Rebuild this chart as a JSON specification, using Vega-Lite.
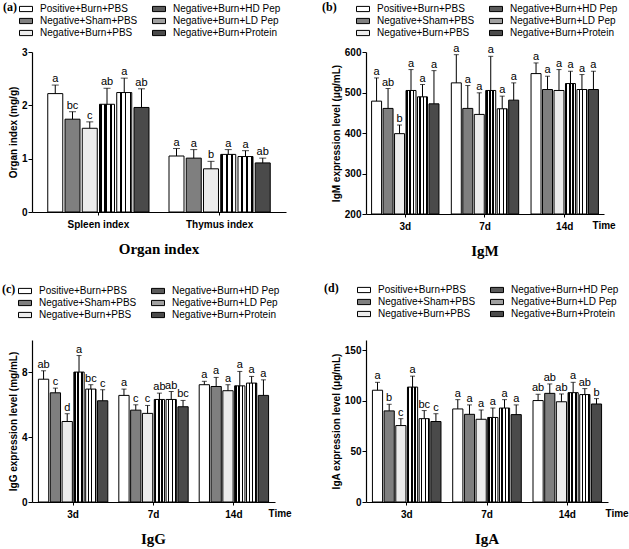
{
  "$schema": "https://vega.github.io/schema/vega-lite/v6.json",
  "padding": {"left": 2, "top": 2, "right": 0, "bottom": 0},
  "datasets": {
    "rows": [
      {"p": "a", "g": "Spleen index", "t": "Positive+Burn+PBS", "v": 2.22, "u": 2.38, "l": "a"},
      {"p": "a", "g": "Spleen index", "t": "Negative+Sham+PBS", "v": 1.74, "u": 1.88, "l": "bc"},
      {"p": "a", "g": "Spleen index", "t": "Negative+Burn+PBS", "v": 1.57, "u": 1.69, "l": "c"},
      {"p": "a", "g": "Spleen index", "t": "Negative+Burn+HD Pep", "v": 2.02, "u": 2.32, "l": "ab"},
      {"p": "a", "g": "Spleen index", "t": "Negative+Burn+LD Pep", "v": 2.24, "u": 2.51, "l": "a"},
      {"p": "a", "g": "Spleen index", "t": "Negative+Burn+Protein", "v": 1.96, "u": 2.31, "l": "ab"},
      {"p": "a", "g": "Thymus index", "t": "Positive+Burn+PBS", "v": 1.05, "u": 1.19, "l": "a"},
      {"p": "a", "g": "Thymus index", "t": "Negative+Sham+PBS", "v": 1.01, "u": 1.17, "l": "a"},
      {"p": "a", "g": "Thymus index", "t": "Negative+Burn+PBS", "v": 0.81, "u": 0.95, "l": "b"},
      {"p": "a", "g": "Thymus index", "t": "Negative+Burn+HD Pep", "v": 1.08, "u": 1.17, "l": "a"},
      {"p": "a", "g": "Thymus index", "t": "Negative+Burn+LD Pep", "v": 1.04, "u": 1.15, "l": "a"},
      {"p": "a", "g": "Thymus index", "t": "Negative+Burn+Protein", "v": 0.92, "u": 1.01, "l": "ab"},

      {"p": "b", "g": "3d", "t": "Positive+Burn+PBS", "v": 478.7, "u": 536.0, "l": "a"},
      {"p": "b", "g": "3d", "t": "Negative+Sham+PBS", "v": 460.7, "u": 509.8, "l": "ab"},
      {"p": "b", "g": "3d", "t": "Negative+Burn+PBS", "v": 398.4, "u": 419.7, "l": "b"},
      {"p": "b", "g": "3d", "t": "Negative+Burn+HD Pep", "v": 505.0, "u": 556.6, "l": "a"},
      {"p": "b", "g": "3d", "t": "Negative+Burn+LD Pep", "v": 489.3, "u": 519.7, "l": "a"},
      {"p": "b", "g": "3d", "t": "Negative+Burn+Protein", "v": 472.0, "u": 554.0, "l": "a"},
      {"p": "b", "g": "7d", "t": "Positive+Burn+PBS", "v": 523.8, "u": 593.4, "l": "a"},
      {"p": "b", "g": "7d", "t": "Negative+Sham+PBS", "v": 460.7, "u": 517.2, "l": "a"},
      {"p": "b", "g": "7d", "t": "Negative+Burn+PBS", "v": 445.9, "u": 499.2, "l": "a"},
      {"p": "b", "g": "7d", "t": "Negative+Burn+HD Pep", "v": 505.0, "u": 589.3, "l": "a"},
      {"p": "b", "g": "7d", "t": "Negative+Burn+LD Pep", "v": 459.8, "u": 491.0, "l": "a"},
      {"p": "b", "g": "7d", "t": "Negative+Burn+Protein", "v": 481.1, "u": 523.8, "l": "a"},
      {"p": "b", "g": "14d", "t": "Positive+Burn+PBS", "v": 546.7, "u": 573.0, "l": "a"},
      {"p": "b", "g": "14d", "t": "Negative+Sham+PBS", "v": 507.4, "u": 540.2, "l": "a"},
      {"p": "b", "g": "14d", "t": "Negative+Burn+PBS", "v": 505.0, "u": 556.6, "l": "a"},
      {"p": "b", "g": "14d", "t": "Negative+Burn+HD Pep", "v": 522.1, "u": 552.5, "l": "a"},
      {"p": "b", "g": "14d", "t": "Negative+Burn+LD Pep", "v": 507.4, "u": 544.3, "l": "a"},
      {"p": "b", "g": "14d", "t": "Negative+Burn+Protein", "v": 507.4, "u": 552.5, "l": "a"},

      {"p": "c", "g": "3d", "t": "Positive+Burn+PBS", "v": 7.58, "u": 8.10, "l": "ab"},
      {"p": "c", "g": "3d", "t": "Negative+Sham+PBS", "v": 6.74, "u": 7.03, "l": "c"},
      {"p": "c", "g": "3d", "t": "Negative+Burn+PBS", "v": 4.97, "u": 5.45, "l": "d"},
      {"p": "c", "g": "3d", "t": "Negative+Burn+HD Pep", "v": 8.02, "u": 9.04, "l": "a"},
      {"p": "c", "g": "3d", "t": "Negative+Burn+LD Pep", "v": 6.97, "u": 7.24, "l": "bc"},
      {"p": "c", "g": "3d", "t": "Negative+Burn+Protein", "v": 6.25, "u": 6.93, "l": "c"},
      {"p": "c", "g": "7d", "t": "Positive+Burn+PBS", "v": 6.58, "u": 6.97, "l": "a"},
      {"p": "c", "g": "7d", "t": "Negative+Sham+PBS", "v": 5.67, "u": 6.00, "l": "c"},
      {"p": "c", "g": "7d", "t": "Negative+Burn+PBS", "v": 5.47, "u": 5.96, "l": "c"},
      {"p": "c", "g": "7d", "t": "Negative+Burn+HD Pep", "v": 6.33, "u": 6.72, "l": "ab"},
      {"p": "c", "g": "7d", "t": "Negative+Burn+LD Pep", "v": 6.33, "u": 6.82, "l": "ab"},
      {"p": "c", "g": "7d", "t": "Negative+Burn+Protein", "v": 5.88, "u": 6.27, "l": "bc"},
      {"p": "c", "g": "14d", "t": "Positive+Burn+PBS", "v": 7.24, "u": 7.45, "l": "a"},
      {"p": "c", "g": "14d", "t": "Negative+Sham+PBS", "v": 7.13, "u": 7.69, "l": "a"},
      {"p": "c", "g": "14d", "t": "Negative+Burn+PBS", "v": 6.87, "u": 7.24, "l": "a"},
      {"p": "c", "g": "14d", "t": "Negative+Burn+HD Pep", "v": 7.17, "u": 8.06, "l": "a"},
      {"p": "c", "g": "14d", "t": "Negative+Burn+LD Pep", "v": 7.34, "u": 7.75, "l": "a"},
      {"p": "c", "g": "14d", "t": "Negative+Burn+Protein", "v": 6.58, "u": 7.54, "l": "a"},

      {"p": "d", "g": "3d", "t": "Positive+Burn+PBS", "v": 110.4, "u": 118.2, "l": "a"},
      {"p": "d", "g": "3d", "t": "Negative+Sham+PBS", "v": 90.0, "u": 96.5, "l": "b"},
      {"p": "d", "g": "3d", "t": "Negative+Burn+PBS", "v": 75.5, "u": 82.3, "l": "c"},
      {"p": "d", "g": "3d", "t": "Negative+Burn+HD Pep", "v": 113.5, "u": 124.3, "l": "a"},
      {"p": "d", "g": "3d", "t": "Negative+Burn+LD Pep", "v": 82.3, "u": 90.3, "l": "bc"},
      {"p": "d", "g": "3d", "t": "Negative+Burn+Protein", "v": 79.5, "u": 87.2, "l": "c"},
      {"p": "d", "g": "7d", "t": "Positive+Burn+PBS", "v": 91.9, "u": 101.1, "l": "a"},
      {"p": "d", "g": "7d", "t": "Negative+Sham+PBS", "v": 86.6, "u": 95.9, "l": "a"},
      {"p": "d", "g": "7d", "t": "Negative+Burn+PBS", "v": 81.7, "u": 90.9, "l": "a"},
      {"p": "d", "g": "7d", "t": "Negative+Burn+HD Pep", "v": 83.5, "u": 92.8, "l": "a"},
      {"p": "d", "g": "7d", "t": "Negative+Burn+LD Pep", "v": 92.8, "u": 101.1, "l": "a"},
      {"p": "d", "g": "7d", "t": "Negative+Burn+Protein", "v": 86.3, "u": 95.9, "l": "a"},
      {"p": "d", "g": "14d", "t": "Positive+Burn+PBS", "v": 100.2, "u": 106.4, "l": "ab"},
      {"p": "d", "g": "14d", "t": "Negative+Sham+PBS", "v": 107.3, "u": 116.6, "l": "ab"},
      {"p": "d", "g": "14d", "t": "Negative+Burn+PBS", "v": 99.0, "u": 106.7, "l": "ab"},
      {"p": "d", "g": "14d", "t": "Negative+Burn+HD Pep", "v": 108.0, "u": 118.2, "l": "a"},
      {"p": "d", "g": "14d", "t": "Negative+Burn+LD Pep", "v": 106.1, "u": 112.0, "l": "ab"},
      {"p": "d", "g": "14d", "t": "Negative+Burn+Protein", "v": 96.8, "u": 102.1, "l": "b"}
    ]
  },
  "data": {"name": "rows"},
  "columns": 2,
  "align": "each",
  "spacing": {"row": 24, "column": 30},
  "resolve": {"scale": {"fill": "independent", "xOffset": "independent"}, "legend": {"fill": "independent"}},
  "concat": [
    {
      "width": 254, "height": 160,
      "title": {"text": "Organ index"},
      "transform": [{"filter": "datum.p == 'a'"}],
      "encoding": {
        "x": {"field": "g", "type": "nominal", "sort": null, "scale": {"paddingInner": 0.165, "paddingOuter": 0.13}, "axis": {"title": null}},
        "xOffset": {"field": "t", "type": "nominal", "sort": null, "scale": {"domain": ["Positive+Burn+PBS", "Negative+Sham+PBS", "Negative+Burn+PBS", "Negative+Burn+HD Pep", "Negative+Burn+LD Pep", "Negative+Burn+Protein"], "paddingInner": 0.13}}
      },
      "layer": [
        {
          "mark": {"type": "bar", "stroke": "black", "strokeWidth": 1},
          "encoding": {
            "y": {"field": "v", "type": "quantitative", "scale": {"domain": [0, 3]}, "axis": {"values": [0, 1, 2, 3], "title": "Organ index (mg/g)"}},
            "fill": {
              "condition": [
                {"test": "datum.t == 'Negative+Burn+HD Pep'", "value": {"gradient": "linear", "x1": 0, "y1": 0, "x2": 1, "y2": 0, "stops": [{"offset": 0, "color": "#000"}, {"offset": 0.18, "color": "#000"}, {"offset": 0.18, "color": "#fff"}, {"offset": 0.333, "color": "#fff"}, {"offset": 0.333, "color": "#000"}, {"offset": 0.513, "color": "#000"}, {"offset": 0.513, "color": "#fff"}, {"offset": 0.667, "color": "#fff"}, {"offset": 0.667, "color": "#000"}, {"offset": 0.847, "color": "#000"}, {"offset": 0.847, "color": "#fff"}, {"offset": 1, "color": "#fff"}]}},
                {"test": "datum.t == 'Negative+Burn+LD Pep'", "value": {"gradient": "linear", "x1": 0, "y1": 0, "x2": 1, "y2": 0, "stops": [{"offset": 0, "color": "#fff"}, {"offset": 0.2, "color": "#fff"}, {"offset": 0.2, "color": "#000"}, {"offset": 0.32, "color": "#000"}, {"offset": 0.32, "color": "#fff"}, {"offset": 0.53, "color": "#fff"}, {"offset": 0.53, "color": "#000"}, {"offset": 0.65, "color": "#000"}, {"offset": 0.65, "color": "#fff"}, {"offset": 0.86, "color": "#fff"}, {"offset": 0.86, "color": "#000"}, {"offset": 0.98, "color": "#000"}, {"offset": 0.98, "color": "#fff"}, {"offset": 1, "color": "#fff"}]}}
              ],
              "field": "t", "type": "nominal",
              "scale": {
                "domain": ["Positive+Burn+PBS", "Negative+Sham+PBS", "Negative+Burn+PBS", "Negative+Burn+HD Pep", "Negative+Burn+LD Pep", "Negative+Burn+Protein"],
                "range": ["#ffffff", "#7f7f7f", "#ececec", "#5a5a5a", "#a0a0a0", "#4a4a4a"]
              },
              "legend": {"title": "(a)", "legendX": -29, "legendY": -50, "titlePadding": 2}
            }
          }
        },
        {"mark": {"type": "rule", "color": "black", "strokeWidth": 1}, "encoding": {"y": {"field": "v", "type": "quantitative", "axis": {"title": "Organ index (mg/g)"}}, "y2": {"field": "u"}}},
        {"mark": {"type": "tick", "color": "black", "thickness": 1, "size": 7}, "encoding": {"y": {"field": "u", "type": "quantitative", "axis": {"title": "Organ index (mg/g)"}}}},
        {"mark": {"type": "text", "baseline": "bottom", "dy": -1, "fontSize": 11, "color": "black"}, "encoding": {"y": {"field": "u", "type": "quantitative", "axis": {"title": "Organ index (mg/g)"}}, "text": {"field": "l"}}}
      ]
    },
    {
      "width": 238, "height": 162,
      "title": {"text": "IgM"},
      "transform": [{"filter": "datum.p == 'b'"}],
      "encoding": {
        "x": {"field": "g", "type": "nominal", "sort": null, "scale": {"paddingInner": 0.155, "paddingOuter": 0.07}, "axis": {"title": "Time", "titleX": 226, "titleY": 11, "titleAlign": "left", "titleBaseline": "middle"}},
        "xOffset": {"field": "t", "type": "nominal", "sort": null, "scale": {"domain": ["Positive+Burn+PBS", "Negative+Sham+PBS", "Negative+Burn+PBS", "Negative+Burn+HD Pep", "Negative+Burn+LD Pep", "Negative+Burn+Protein"], "paddingInner": 0.13}}
      },
      "layer": [
        {
          "mark": {"type": "bar", "stroke": "black", "strokeWidth": 1},
          "encoding": {
            "y": {"field": "v", "type": "quantitative", "scale": {"domain": [200, 600]}, "axis": {"values": [200, 300, 400, 500, 600], "title": "IgM expression level (μg/mL)"}},
            "y2": {"datum": 200},
            "fill": {
              "condition": [
                {"test": "datum.t == 'Negative+Burn+HD Pep'", "value": {"gradient": "linear", "x1": 0, "y1": 0, "x2": 1, "y2": 0, "stops": [{"offset": 0, "color": "#000"}, {"offset": 0.18, "color": "#000"}, {"offset": 0.18, "color": "#fff"}, {"offset": 0.333, "color": "#fff"}, {"offset": 0.333, "color": "#000"}, {"offset": 0.513, "color": "#000"}, {"offset": 0.513, "color": "#fff"}, {"offset": 0.667, "color": "#fff"}, {"offset": 0.667, "color": "#000"}, {"offset": 0.847, "color": "#000"}, {"offset": 0.847, "color": "#fff"}, {"offset": 1, "color": "#fff"}]}},
                {"test": "datum.t == 'Negative+Burn+LD Pep'", "value": {"gradient": "linear", "x1": 0, "y1": 0, "x2": 1, "y2": 0, "stops": [{"offset": 0, "color": "#fff"}, {"offset": 0.2, "color": "#fff"}, {"offset": 0.2, "color": "#000"}, {"offset": 0.32, "color": "#000"}, {"offset": 0.32, "color": "#fff"}, {"offset": 0.53, "color": "#fff"}, {"offset": 0.53, "color": "#000"}, {"offset": 0.65, "color": "#000"}, {"offset": 0.65, "color": "#fff"}, {"offset": 0.86, "color": "#fff"}, {"offset": 0.86, "color": "#000"}, {"offset": 0.98, "color": "#000"}, {"offset": 0.98, "color": "#fff"}, {"offset": 1, "color": "#fff"}]}}
              ],
              "field": "t", "type": "nominal",
              "scale": {
                "domain": ["Positive+Burn+PBS", "Negative+Sham+PBS", "Negative+Burn+PBS", "Negative+Burn+HD Pep", "Negative+Burn+LD Pep", "Negative+Burn+Protein"],
                "range": ["#ffffff", "#7f7f7f", "#ececec", "#5a5a5a", "#a0a0a0", "#4a4a4a"]
              },
              "legend": {"title": "(b)", "legendX": -44, "legendY": -50, "titlePadding": 19}
            }
          }
        },
        {"mark": {"type": "rule", "color": "black", "strokeWidth": 1}, "encoding": {"y": {"field": "v", "type": "quantitative", "axis": {"title": "IgM expression level (μg/mL)"}}, "y2": {"field": "u"}}},
        {"mark": {"type": "tick", "color": "black", "thickness": 1, "size": 5}, "encoding": {"y": {"field": "u", "type": "quantitative", "axis": {"title": "IgM expression level (μg/mL)"}}}},
        {"mark": {"type": "text", "baseline": "bottom", "dy": -1, "fontSize": 11, "color": "black"}, "encoding": {"y": {"field": "u", "type": "quantitative", "axis": {"title": "IgM expression level (μg/mL)"}}, "text": {"field": "l"}}}
      ]
    },
    {
      "width": 243, "height": 162,
      "title": {"text": "IgG"},
      "transform": [{"filter": "datum.p == 'c'"}],
      "encoding": {
        "x": {"field": "g", "type": "nominal", "sort": null, "scale": {"paddingInner": 0.137, "paddingOuter": 0.08}, "axis": {"title": "Time", "titleX": 236, "titleY": 11, "titleAlign": "left", "titleBaseline": "middle"}},
        "xOffset": {"field": "t", "type": "nominal", "sort": null, "scale": {"domain": ["Positive+Burn+PBS", "Negative+Sham+PBS", "Negative+Burn+PBS", "Negative+Burn+HD Pep", "Negative+Burn+LD Pep", "Negative+Burn+Protein"], "paddingInner": 0.13}}
      },
      "layer": [
        {
          "mark": {"type": "bar", "stroke": "black", "strokeWidth": 1},
          "encoding": {
            "y": {"field": "v", "type": "quantitative", "scale": {"domain": [0, 10]}, "axis": {"values": [0, 2, 4, 6, 8, 10], "title": "IgG expression level (mg/mL)"}},
            "fill": {
              "condition": [
                {"test": "datum.t == 'Negative+Burn+HD Pep'", "value": {"gradient": "linear", "x1": 0, "y1": 0, "x2": 1, "y2": 0, "stops": [{"offset": 0, "color": "#000"}, {"offset": 0.18, "color": "#000"}, {"offset": 0.18, "color": "#fff"}, {"offset": 0.333, "color": "#fff"}, {"offset": 0.333, "color": "#000"}, {"offset": 0.513, "color": "#000"}, {"offset": 0.513, "color": "#fff"}, {"offset": 0.667, "color": "#fff"}, {"offset": 0.667, "color": "#000"}, {"offset": 0.847, "color": "#000"}, {"offset": 0.847, "color": "#fff"}, {"offset": 1, "color": "#fff"}]}},
                {"test": "datum.t == 'Negative+Burn+LD Pep'", "value": {"gradient": "linear", "x1": 0, "y1": 0, "x2": 1, "y2": 0, "stops": [{"offset": 0, "color": "#fff"}, {"offset": 0.2, "color": "#fff"}, {"offset": 0.2, "color": "#000"}, {"offset": 0.32, "color": "#000"}, {"offset": 0.32, "color": "#fff"}, {"offset": 0.53, "color": "#fff"}, {"offset": 0.53, "color": "#000"}, {"offset": 0.65, "color": "#000"}, {"offset": 0.65, "color": "#fff"}, {"offset": 0.86, "color": "#fff"}, {"offset": 0.86, "color": "#000"}, {"offset": 0.98, "color": "#000"}, {"offset": 0.98, "color": "#fff"}, {"offset": 1, "color": "#fff"}]}}
              ],
              "field": "t", "type": "nominal",
              "scale": {
                "domain": ["Positive+Burn+PBS", "Negative+Sham+PBS", "Negative+Burn+PBS", "Negative+Burn+HD Pep", "Negative+Burn+LD Pep", "Negative+Burn+Protein"],
                "range": ["#ffffff", "#7f7f7f", "#ececec", "#5a5a5a", "#a0a0a0", "#4a4a4a"]
              },
              "legend": {"title": "(c)", "legendX": -30, "legendY": -56, "titlePadding": 2}
            }
          }
        },
        {"mark": {"type": "rule", "color": "black", "strokeWidth": 1}, "encoding": {"y": {"field": "v", "type": "quantitative", "axis": {"title": "IgG expression level (mg/mL)"}}, "y2": {"field": "u"}}},
        {"mark": {"type": "tick", "color": "black", "thickness": 1, "size": 5}, "encoding": {"y": {"field": "u", "type": "quantitative", "axis": {"title": "IgG expression level (mg/mL)"}}}},
        {"mark": {"type": "text", "baseline": "bottom", "dy": -1, "fontSize": 11, "color": "black"}, "encoding": {"y": {"field": "u", "type": "quantitative", "axis": {"title": "IgG expression level (mg/mL)"}}, "text": {"field": "l"}}}
      ]
    },
    {
      "width": 242, "height": 162,
      "title": {"text": "IgA"},
      "transform": [{"filter": "datum.p == 'd'"}],
      "encoding": {
        "x": {"field": "g", "type": "nominal", "sort": null, "scale": {"paddingInner": 0.146, "paddingOuter": 0.08}, "axis": {"title": "Time", "titleX": 239, "titleY": 11, "titleAlign": "left", "titleBaseline": "middle"}},
        "xOffset": {"field": "t", "type": "nominal", "sort": null, "scale": {"domain": ["Positive+Burn+PBS", "Negative+Sham+PBS", "Negative+Burn+PBS", "Negative+Burn+HD Pep", "Negative+Burn+LD Pep", "Negative+Burn+Protein"], "paddingInner": 0.13}}
      },
      "layer": [
        {
          "mark": {"type": "bar", "stroke": "black", "strokeWidth": 1},
          "encoding": {
            "y": {"field": "v", "type": "quantitative", "scale": {"domain": [0, 150]}, "axis": {"values": [0, 50, 100, 150], "title": "IgA expression level (μg/mL)"}},
            "fill": {
              "condition": [
                {"test": "datum.t == 'Negative+Burn+HD Pep'", "value": {"gradient": "linear", "x1": 0, "y1": 0, "x2": 1, "y2": 0, "stops": [{"offset": 0, "color": "#000"}, {"offset": 0.18, "color": "#000"}, {"offset": 0.18, "color": "#fff"}, {"offset": 0.333, "color": "#fff"}, {"offset": 0.333, "color": "#000"}, {"offset": 0.513, "color": "#000"}, {"offset": 0.513, "color": "#fff"}, {"offset": 0.667, "color": "#fff"}, {"offset": 0.667, "color": "#000"}, {"offset": 0.847, "color": "#000"}, {"offset": 0.847, "color": "#fff"}, {"offset": 1, "color": "#fff"}]}},
                {"test": "datum.t == 'Negative+Burn+LD Pep'", "value": {"gradient": "linear", "x1": 0, "y1": 0, "x2": 1, "y2": 0, "stops": [{"offset": 0, "color": "#fff"}, {"offset": 0.2, "color": "#fff"}, {"offset": 0.2, "color": "#000"}, {"offset": 0.32, "color": "#000"}, {"offset": 0.32, "color": "#fff"}, {"offset": 0.53, "color": "#fff"}, {"offset": 0.53, "color": "#000"}, {"offset": 0.65, "color": "#000"}, {"offset": 0.65, "color": "#fff"}, {"offset": 0.86, "color": "#fff"}, {"offset": 0.86, "color": "#000"}, {"offset": 0.98, "color": "#000"}, {"offset": 0.98, "color": "#fff"}, {"offset": 1, "color": "#fff"}]}}
              ],
              "field": "t", "type": "nominal",
              "scale": {
                "domain": ["Positive+Burn+PBS", "Negative+Sham+PBS", "Negative+Burn+PBS", "Negative+Burn+HD Pep", "Negative+Burn+LD Pep", "Negative+Burn+Protein"],
                "range": ["#ffffff", "#7f7f7f", "#ececec", "#5a5a5a", "#a0a0a0", "#4a4a4a"]
              },
              "legend": {"title": "(d)", "legendX": -42, "legendY": -57, "titlePadding": 18}
            }
          }
        },
        {"mark": {"type": "rule", "color": "black", "strokeWidth": 1}, "encoding": {"y": {"field": "v", "type": "quantitative", "axis": {"title": "IgA expression level (μg/mL)"}}, "y2": {"field": "u"}}},
        {"mark": {"type": "tick", "color": "black", "thickness": 1, "size": 5}, "encoding": {"y": {"field": "u", "type": "quantitative", "axis": {"title": "IgA expression level (μg/mL)"}}}},
        {"mark": {"type": "text", "baseline": "bottom", "dy": -1, "fontSize": 11, "color": "black"}, "encoding": {"y": {"field": "u", "type": "quantitative", "axis": {"title": "IgA expression level (μg/mL)"}}, "text": {"field": "l"}}}
      ]
    }
  ],
  "config": {
    "font": "Liberation Sans",
    "background": "white",
    "view": {"stroke": null},
    "axis": {
      "grid": false, "domainColor": "black", "domainWidth": 1.2, "tickColor": "black", "tickWidth": 1, "tickSize": 4,
      "labelColor": "black", "labelFontSize": 10, "labelFontWeight": "bold", "labelPadding": 1,
      "titleColor": "black", "titleFontSize": 10, "titleFontWeight": "bold", "titlePadding": 3
    },
    "axisX": {"labelAngle": 0, "tickSize": 3, "labelPadding": 4},
    "legend": {
      "orient": "none", "columns": 2, "columnPadding": 12, "rowPadding": 0,
      "symbolType": "M-1,-0.4H1V0.4H-1Z", "symbolSize": 169, "symbolStrokeColor": "black", "symbolStrokeWidth": 1,
      "labelFont": "Liberation Sans", "labelFontSize": 10, "labelColor": "black", "labelOffset": 7, "labelLimit": 200,
      "titleFont": "Liberation Serif", "titleFontSize": 12, "titleFontWeight": "bold", "titleColor": "black",
      "titleOrient": "left", "titleAnchor": "start", "titleBaseline": "top"
    },
    "title": {"font": "Liberation Serif", "fontSize": 15, "fontWeight": "bold", "color": "black", "orient": "bottom", "offset": 13},
    "text": {"color": "black", "font": "Liberation Sans"}
  }
}
